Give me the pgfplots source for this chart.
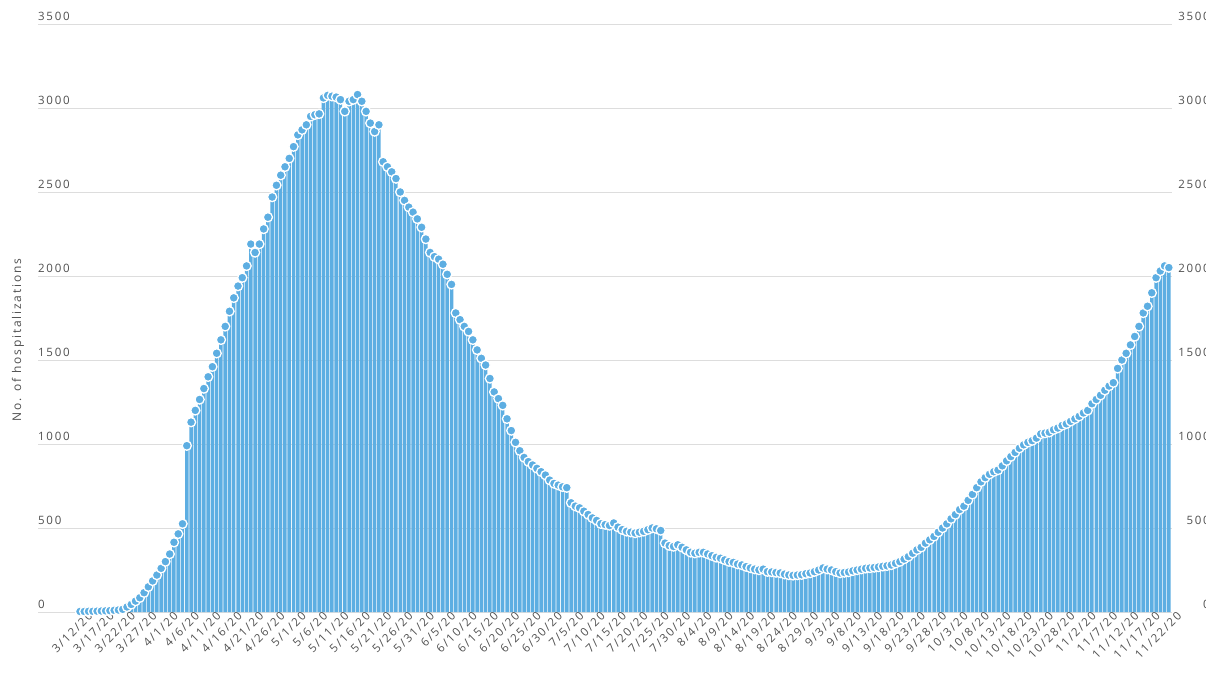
\documentclass[border=0pt]{standalone}
\usepackage{fontspec}
\usepackage{pgfplots}
\usepackage{pgfplotstable}
\pgfplotsset{compat=1.18}
\newfontfamily\chartfont[LetterSpace=15]{Open Sans}

\definecolor{barblue}{RGB}{93,174,226}
\definecolor{gridgray}{RGB}{221,221,221}
\definecolor{labelgray}{RGB}{80,80,80}

% day index (0 = 3/12/20), hospitalizations
\pgfplotstableread{
d v
0 3
1 3
2 4
3 4
4 5
5 6
6 7
7 8
8 10
9 12
10 16
11 30
12 45
13 65
14 85
15 115
16 150
17 185
18 220
19 260
20 300
21 345
22 415
23 465
24 525
25 990
26 1130
27 1200
28 1265
29 1330
30 1400
31 1460
32 1540
33 1620
34 1700
35 1790
36 1870
37 1940
38 1990
39 2060
40 2190
41 2140
42 2190
43 2280
44 2350
45 2470
46 2540
47 2600
48 2650
49 2700
50 2770
51 2840
52 2870
53 2900
54 2950
55 2960
56 2965
57 3060
58 3075
59 3070
60 3065
61 3050
62 2980
63 3040
64 3050
65 3080
66 3040
67 2980
68 2910
69 2860
70 2900
71 2680
72 2650
73 2620
74 2580
75 2500
76 2450
77 2410
78 2380
79 2340
80 2290
81 2220
82 2140
83 2115
84 2100
85 2070
86 2010
87 1950
88 1780
89 1740
90 1700
91 1670
92 1620
93 1560
94 1510
95 1470
96 1390
97 1310
98 1270
99 1230
100 1150
101 1080
102 1010
103 960
104 920
105 895
106 875
107 855
108 835
109 815
110 785
111 765
112 755
113 745
114 740
115 650
116 630
117 620
118 600
119 580
120 560
121 545
122 525
123 520
124 515
125 530
126 505
127 490
128 480
129 475
130 470
131 475
132 480
133 490
134 500
135 495
136 485
137 410
138 395
139 390
140 400
141 385
142 370
143 355
144 350
145 355
146 355
147 345
148 335
149 325
150 320
151 310
152 300
153 295
154 285
155 280
156 270
157 262
158 255
159 250
160 255
161 240
162 238
163 235
164 232
165 225
166 220
167 218
168 220
169 222
170 228
171 232
172 240
173 250
174 262
175 255
176 250
177 240
178 232
179 235
180 238
181 245
182 250
183 255
184 260
185 262
186 265
187 268
188 272
189 275
190 280
191 290
192 300
193 315
194 330
195 350
196 370
197 385
198 410
199 430
200 450
201 475
202 500
203 525
204 555
205 580
206 610
207 630
208 665
209 700
210 740
211 775
212 800
213 820
214 835
215 845
216 870
217 900
218 925
219 950
220 975
221 995
222 1010
223 1020
224 1035
225 1060
226 1065
227 1070
228 1085
229 1095
230 1110
231 1120
232 1135
233 1150
234 1165
235 1185
236 1200
237 1240
238 1265
239 1290
240 1320
241 1345
242 1365
243 1450
244 1500
245 1540
246 1590
247 1640
248 1700
249 1780
250 1820
251 1900
252 1990
253 2030
254 2060
255 2050
}\hosp

\begin{document}
\begin{tikzpicture}
\useasboundingbox (0,0) rectangle (1206bp,676bp);
\begin{axis}[
  at={(38bp,64bp)}, anchor=south west,
  scale only axis,
  width=1134bp, height=588bp,
  xmin=-9.84, xmax=255.74,
  ymin=0, ymax=3500,
  ytick={0,500,...,3500},
  axis line style={draw=none},
  major tick length=0pt,
  ymajorgrids,
  grid style={gridgray, line width=0.9bp},
  font=\chartfont,
  /pgf/number format/assume math mode=true,
  /pgf/number format/1000 sep={},
  yticklabel style={font=\chartfont\fontsize{11.5bp}{13bp}\selectfont, text=labelgray,
    anchor=south west, inner sep=0pt, yshift=3.5bp},
  xtick={0,5,...,255},
  xticklabels={3/12/20,3/17/20,3/22/20,3/27/20,4/1/20,4/6/20,4/11/20,4/16/20,4/21/20,4/26/20,
    5/1/20,5/6/20,5/11/20,5/16/20,5/21/20,5/26/20,5/31/20,6/5/20,6/10/20,6/15/20,6/20/20,6/25/20,6/30/20,
    7/5/20,7/10/20,7/15/20,7/20/20,7/25/20,7/30/20,8/4/20,8/9/20,8/14/20,8/19/20,8/24/20,8/29/20,
    9/3/20,9/8/20,9/13/20,9/18/20,9/23/20,9/28/20,10/3/20,10/8/20,10/13/20,10/18/20,10/23/20,10/28/20,
    11/2/20,11/7/20,11/12/20,11/17/20,11/22/20},
  xticklabel style={font=\chartfont\fontsize{11.5bp}{13bp}\selectfont, text=labelgray,
    rotate=45, anchor=east, inner sep=0pt, xshift=6bp, yshift=-9bp},
  clip=false,
]
\addplot[ybar, bar width=3.5bp, bar shift=0pt, fill=barblue, draw=none] table[x=d, y=v] {\hosp};
\addplot[only marks, mark=*, mark size=4.6bp,
  mark options={fill=barblue, draw=white, line width=1.3bp}] table[x=d, y=v] {\hosp};
\end{axis}
% right-hand copy of the value axis
\begin{axis}[
  at={(38bp,64bp)}, anchor=south west,
  scale only axis,
  width=1134bp, height=588bp,
  xmin=-9.84, xmax=255.74,
  ymin=0, ymax=3500,
  ytick={0,500,...,3500},
  hide x axis,
  axis y line*=right,
  y axis line style={draw=none},
  major tick length=0pt,
  /pgf/number format/assume math mode=true,
  /pgf/number format/1000 sep={},
  yticklabel style={font=\chartfont\fontsize{11.5bp}{13bp}\selectfont, text=labelgray,
    anchor=south east, inner sep=0pt, xshift=38bp, yshift=3.5bp},
]
\addplot[draw=none] coordinates {(0,0)};
\end{axis}
\node[rotate=90, text=labelgray, font=\chartfont\fontsize{12bp}{14bp}\selectfont]
  at (18bp,336bp) {No. of hospitalizations};
\end{tikzpicture}
\end{document}
